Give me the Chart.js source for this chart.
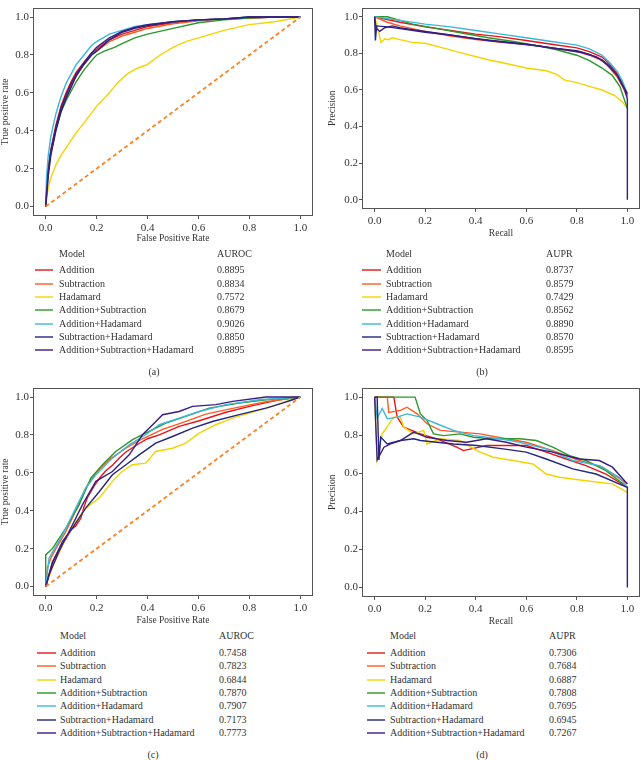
<!DOCTYPE html>
<html><head><meta charset="utf-8">
<script src="https://cdn.jsdelivr.net/npm/chart.js@4.4.1/dist/chart.umd.min.js"></script>
<style>
html,body{margin:0;padding:0;background:#fff;}
#root{position:relative;width:641px;height:760px;overflow:hidden;font-family:'Liberation Serif','Times New Roman',serif;color:#333;}
canvas{position:absolute;}
.t{position:absolute;white-space:nowrap;font-size:10px;line-height:12px;transform:translateY(-50%);}
.sw{position:absolute;height:2px;}
</style></head><body><div id="root">
<canvas id="ca" width="320" height="250" style="left:0;top:0;width:320px;height:250px"></canvas>
<canvas id="cb" width="321" height="250" style="left:320px;top:0;width:321px;height:250px"></canvas>
<canvas id="cc" width="320" height="250" style="left:0;top:380px;width:320px;height:250px"></canvas>
<canvas id="cd" width="321" height="250" style="left:320px;top:380px;width:321px;height:250px"></canvas>
</div>
<script>
// ---------- labels ----------
const MODELS = ['Addition','Subtraction','Hadamard','Addition+Subtraction','Addition+Hadamard','Subtraction+Hadamard','Addition+Subtraction+Hadamard'];
const COLORS = ['#e8141a','#ff5a22','#f2d400','#2b982b','#3db6dc','#23257f','#3b1d82'];
const TICKS = [0.0,0.2,0.4,0.6,0.8,1.0];
const AUROC_A = ['0.8895','0.8834','0.7572','0.8679','0.9026','0.8850','0.8895'];
const AUPR_B  = ['0.8737','0.8579','0.7429','0.8562','0.8890','0.8570','0.8595'];
const AUROC_C = ['0.7458','0.7823','0.6844','0.7870','0.7907','0.7173','0.7773'];
const AUPR_D  = ['0.7306','0.7684','0.6887','0.7808','0.7695','0.6945','0.7267'];
const DIAG = [[0,0],[1,1]];

// ---------- (a) ROC ----------
const A_ADD = [[0,0],[0.005,0.12],[0.01,0.2],[0.02,0.3],[0.04,0.43],[0.06,0.53],[0.08,0.6],[0.1,0.66],[0.12,0.71],[0.15,0.76],[0.18,0.81],[0.2,0.83],[0.25,0.88],[0.3,0.91],[0.35,0.93],[0.4,0.95],[0.5,0.97],[0.6,0.985],[0.7,0.99],[0.8,0.995],[0.9,1],[1,1]];
const A_SUB = [[0,0],[0.005,0.1],[0.01,0.18],[0.02,0.28],[0.04,0.41],[0.06,0.51],[0.08,0.58],[0.1,0.64],[0.12,0.69],[0.15,0.75],[0.18,0.8],[0.2,0.82],[0.25,0.87],[0.3,0.9],[0.35,0.92],[0.4,0.94],[0.5,0.965],[0.6,0.98],[0.7,0.99],[0.8,0.995],[0.9,1],[1,1]];
const A_HAD = [[0,0],[0.005,0.06],[0.01,0.1],[0.02,0.15],[0.04,0.22],[0.06,0.27],[0.08,0.31],[0.1,0.35],[0.12,0.39],[0.15,0.44],[0.2,0.53],[0.25,0.6],[0.28,0.65],[0.32,0.7],[0.36,0.73],[0.4,0.75],[0.45,0.8],[0.5,0.84],[0.55,0.87],[0.6,0.89],[0.65,0.91],[0.7,0.93],[0.8,0.96],[0.9,0.975],[1,1]];
const A_ADDSUB = [[0,0],[0.005,0.12],[0.01,0.2],[0.02,0.29],[0.04,0.41],[0.06,0.5],[0.08,0.56],[0.1,0.61],[0.12,0.66],[0.15,0.72],[0.18,0.77],[0.2,0.8],[0.23,0.82],[0.27,0.84],[0.3,0.86],[0.35,0.89],[0.4,0.91],[0.5,0.94],[0.6,0.97],[0.7,0.985],[0.8,0.995],[0.9,1],[1,1]];
const A_ADDHAD = [[0,0],[0.003,0.15],[0.01,0.27],[0.02,0.37],[0.04,0.49],[0.06,0.58],[0.08,0.65],[0.1,0.7],[0.12,0.75],[0.15,0.8],[0.18,0.85],[0.2,0.87],[0.25,0.91],[0.3,0.93],[0.35,0.95],[0.4,0.96],[0.5,0.975],[0.6,0.985],[0.7,0.99],[0.8,1],[1,1]];
const A_SUBHAD = [[0,0],[0.005,0.08],[0.01,0.16],[0.02,0.27],[0.04,0.4],[0.06,0.5],[0.08,0.57],[0.1,0.63],[0.12,0.69],[0.15,0.75],[0.18,0.8],[0.2,0.82],[0.25,0.88],[0.3,0.92],[0.35,0.94],[0.4,0.955],[0.5,0.975],[0.6,0.985],[0.7,0.99],[0.8,1],[1,1]];
const A_ALL = [[0,0],[0.005,0.1],[0.01,0.19],[0.02,0.29],[0.04,0.42],[0.06,0.52],[0.08,0.59],[0.1,0.65],[0.12,0.7],[0.15,0.76],[0.18,0.81],[0.2,0.84],[0.25,0.89],[0.3,0.925],[0.35,0.945],[0.4,0.96],[0.5,0.975],[0.6,0.985],[0.7,0.99],[0.8,1],[1,1]];

// ---------- (b) PR ----------
const B_ADD = [[0,1],[0.05,0.985],[0.1,0.97],[0.2,0.945],[0.3,0.925],[0.4,0.905],[0.5,0.89],[0.6,0.87],[0.7,0.85],[0.8,0.83],[0.85,0.81],[0.9,0.78],[0.93,0.74],[0.96,0.69],[0.98,0.64],[1,0.57]];
const B_SUB = [[0,1],[0.05,0.97],[0.1,0.95],[0.2,0.92],[0.3,0.895],[0.4,0.875],[0.5,0.86],[0.6,0.85],[0.7,0.83],[0.8,0.81],[0.85,0.79],[0.9,0.76],[0.93,0.72],[0.96,0.67],[0.98,0.62],[1,0.56]];
const B_HAD = [[0,1],[0.01,0.95],[0.025,0.86],[0.04,0.88],[0.055,0.875],[0.07,0.885],[0.1,0.875],[0.15,0.86],[0.2,0.855],[0.27,0.83],[0.35,0.8],[0.45,0.765],[0.52,0.745],[0.6,0.72],[0.68,0.705],[0.72,0.685],[0.75,0.655],[0.8,0.64],[0.85,0.62],[0.9,0.6],[0.95,0.57],[0.98,0.535],[1,0.5]];
const B_ADDSUB = [[0,1],[0.05,1.0],[0.1,0.98],[0.15,0.96],[0.25,0.935],[0.35,0.91],[0.45,0.885],[0.55,0.865],[0.65,0.84],[0.72,0.82],[0.8,0.79],[0.85,0.76],[0.9,0.72],[0.94,0.68],[0.97,0.62],[1,0.5]];
const B_ADDHAD = [[0,1],[0.05,0.99],[0.1,0.98],[0.2,0.96],[0.3,0.945],[0.4,0.925],[0.5,0.905],[0.6,0.885],[0.7,0.865],[0.8,0.845],[0.85,0.825],[0.9,0.79],[0.93,0.75],[0.96,0.7],[0.98,0.65],[1,0.58]];
const B_SUBHAD = [[0,1],[0.003,0.87],[0.008,0.95],[0.05,0.945],[0.1,0.935],[0.2,0.915],[0.3,0.9],[0.4,0.88],[0.5,0.865],[0.6,0.85],[0.7,0.83],[0.8,0.815],[0.85,0.795],[0.9,0.765],[0.93,0.73],[0.96,0.68],[0.98,0.63],[1,0.58]];
const B_ALL = [[0,1],[0.005,0.94],[0.02,0.92],[0.04,0.94],[0.07,0.95],[0.1,0.94],[0.15,0.93],[0.25,0.91],[0.35,0.89],[0.45,0.87],[0.55,0.855],[0.65,0.84],[0.75,0.82],[0.82,0.805],[0.88,0.78],[0.92,0.74],[0.96,0.68],[0.99,0.6],[1,0.55],[1,0]];

// ---------- (c) ROC ----------
const C_ADD = [[0,0],[0.026,0.13],[0.05,0.19],[0.079,0.25],[0.1,0.3],[0.118,0.32],[0.138,0.36],[0.15,0.42],[0.164,0.47],[0.19,0.53],[0.21,0.57],[0.235,0.61],[0.262,0.64],[0.29,0.68],[0.315,0.71],[0.367,0.755],[0.4,0.78],[0.446,0.8],[0.524,0.845],[0.603,0.875],[0.708,0.92],[0.813,0.955],[0.917,0.985],[1,1]];
const C_SUB = [[0,0],[0.007,0.1],[0.02,0.15],[0.04,0.2],[0.079,0.29],[0.118,0.4],[0.157,0.52],[0.197,0.6],[0.249,0.67],[0.315,0.73],[0.38,0.78],[0.459,0.83],[0.537,0.865],[0.629,0.91],[0.734,0.94],[0.865,0.975],[1,1]];
const C_HAD = [[0,0],[0.026,0.1],[0.079,0.255],[0.118,0.343],[0.157,0.414],[0.21,0.467],[0.262,0.555],[0.3,0.607],[0.34,0.643],[0.393,0.651],[0.432,0.713],[0.498,0.73],[0.55,0.757],[0.603,0.81],[0.668,0.854],[0.734,0.889],[0.8,0.915],[0.89,0.951],[0.944,0.977],[1,1]];
const C_ADDSUB = [[0,0],[0,0.167],[0.026,0.2],[0.079,0.308],[0.131,0.431],[0.177,0.572],[0.223,0.643],[0.275,0.713],[0.341,0.775],[0.406,0.819],[0.472,0.863],[0.55,0.898],[0.642,0.942],[0.76,0.968],[0.865,0.986],[1,1]];
const C_ADDHAD = [[0,0],[0.013,0.15],[0.066,0.273],[0.118,0.414],[0.157,0.52],[0.197,0.59],[0.262,0.678],[0.328,0.748],[0.393,0.801],[0.446,0.854],[0.524,0.889],[0.603,0.924],[0.708,0.96],[0.839,0.986],[1,1]];
const C_SUBHAD = [[0,0],[0.026,0.123],[0.066,0.238],[0.105,0.308],[0.157,0.414],[0.21,0.5],[0.262,0.59],[0.315,0.643],[0.367,0.695],[0.432,0.757],[0.498,0.792],[0.577,0.836],[0.655,0.871],[0.76,0.907],[0.865,0.942],[0.93,0.968],[0.97,0.986],[1,1]];
const C_ALL = [[0,0],[0.013,0.062],[0.052,0.185],[0.105,0.326],[0.144,0.431],[0.197,0.555],[0.262,0.607],[0.328,0.695],[0.38,0.801],[0.42,0.854],[0.459,0.907],[0.524,0.924],[0.577,0.951],[0.668,0.96],[0.734,0.977],[0.865,1],[1,1]];

// ---------- (d) PR ----------
const D_ADD = [[0,1],[0.076,1],[0.089,0.895],[0.115,0.842],[0.181,0.807],[0.246,0.781],[0.325,0.737],[0.351,0.719],[0.443,0.746],[0.521,0.746],[0.6,0.746],[0.679,0.711],[0.758,0.675],[0.836,0.64],[0.915,0.596],[1,0.526]];
const D_SUB = [[0,1],[0.05,1],[0.056,0.92],[0.102,0.93],[0.128,0.947],[0.168,0.912],[0.207,0.86],[0.26,0.825],[0.338,0.816],[0.417,0.807],[0.521,0.781],[0.6,0.763],[0.705,0.719],[0.81,0.667],[0.902,0.632],[1,0.544]];
const D_HAD = [[0,1],[0.01,0.67],[0.03,0.807],[0.076,0.895],[0.102,0.895],[0.115,0.842],[0.155,0.807],[0.194,0.825],[0.207,0.754],[0.26,0.781],[0.338,0.772],[0.404,0.719],[0.469,0.684],[0.548,0.667],[0.626,0.649],[0.679,0.596],[0.731,0.579],[0.836,0.561],[0.941,0.544],[1,0.5]];
const D_ADDSUB = [[0,1],[0.16,1],[0.181,0.912],[0.207,0.877],[0.233,0.807],[0.273,0.798],[0.338,0.807],[0.391,0.789],[0.469,0.781],[0.574,0.781],[0.64,0.772],[0.705,0.737],[0.771,0.693],[0.836,0.667],[0.915,0.614],[0.967,0.561],[1,0.526]];
const D_ADDHAD = [[0,1],[0.01,0.89],[0.03,0.94],[0.05,0.886],[0.089,0.895],[0.128,0.912],[0.181,0.895],[0.246,0.86],[0.312,0.825],[0.391,0.798],[0.495,0.781],[0.574,0.763],[0.679,0.728],[0.784,0.667],[0.889,0.64],[0.967,0.579],[1,0.526]];
const D_SUBHAD = [[0,1],[0.01,1],[0.017,0.67],[0.024,0.79],[0.05,0.754],[0.102,0.772],[0.155,0.781],[0.181,0.772],[0.312,0.754],[0.404,0.746],[0.508,0.728],[0.6,0.711],[0.679,0.675],[0.784,0.623],[0.876,0.596],[0.967,0.544],[1,0.526],[1,0]];
const D_ALL = [[0,1],[0.01,0.67],[0.037,0.737],[0.063,0.754],[0.102,0.772],[0.155,0.816],[0.207,0.789],[0.286,0.772],[0.364,0.763],[0.443,0.781],[0.521,0.763],[0.6,0.737],[0.705,0.711],[0.81,0.675],[0.889,0.667],[0.941,0.632],[1,0.544]];

const FONT = "'Liberation Serif','Times New Roman',serif";

const boxPlugin = {
  id:'box',
  afterDatasetsDraw(chart){
    const a = chart.chartArea, ctx = chart.ctx;
    ctx.save(); ctx.strokeStyle='#555'; ctx.lineWidth=1;
    ctx.strokeRect(Math.round(a.left)+0.5, Math.round(a.top)+0.5, Math.round(a.right-a.left)-1, Math.round(a.bottom-a.top)-1);
    ctx.restore();
  }
};

function makeChart(id, series, cfg){
  const datasets = series.map((s,i)=>({
    label: MODELS[i], data: s.map(p=>({x:p[0],y:p[1]})), borderColor: COLORS[i],
    borderWidth:1.4, pointRadius:0, fill:false, tension:0, order: 10-i
  }));
  if(cfg.diag) datasets.push({label:'chance', data: DIAG.map(p=>({x:p[0],y:p[1]})), borderColor:'#ff8020', borderDash:[4,3], borderWidth:1.8, pointRadius:0, fill:false, order:0});
  const tickFont = {family:FONT, size:11};
  const titleFont = {family:FONT, size:9.5};
  const common = {type:'linear', min:-0.05, max:1.05,
    afterBuildTicks: s=>{ s.ticks = TICKS.map(v=>({value:v})); },
    grid:{drawOnChartArea:false, drawTicks:true, tickLength:3, color:'#555'},
    border:{display:false}};
  new Chart(document.getElementById(id), {
    type:'line', data:{datasets},
    options:{responsive:false, animation:false, maintainAspectRatio:false,
      layout:{padding:cfg.pad},
      plugins:{legend:{display:false}, tooltip:{enabled:false}},
      scales:{
        x:Object.assign({}, common, {
          afterFit: s=>{ s.height = cfg.xH; },
          ticks:{callback:v=>Number(v).toFixed(1), font:tickFont, color:'#333', padding:cfg.xTP, maxRotation:0, autoSkip:false},
          title:{display:true, text:cfg.xTitle, font:titleFont, color:'#333', padding:{top:0,bottom:cfg.xTitlePad}}
        }),
        y:Object.assign({}, common, {
          afterFit: s=>{ s.width = cfg.yW; },
          ticks:{callback:v=>Number(v).toFixed(1), font:tickFont, color:'#333', padding:1, autoSkip:false},
          title:{display:true, text:cfg.yTitle, font:titleFont, color:'#333', padding:{top:cfg.yTitlePad,bottom:0}}
        })
      }
    },
    plugins:[boxPlugin]
  });
}

makeChart('ca',[A_ADD,A_SUB,A_HAD,A_ADDSUB,A_ADDHAD,A_SUBHAD,A_ALL],
  {diag:true, pad:{top:5,right:7,left:0,bottom:0}, xH:34, yW:33, xTP:3, xTitlePad:6, yTitlePad:0, xTitle:'False Positive Rate', yTitle:'True positive rate'});
makeChart('cb',[B_ADD,B_SUB,B_HAD,B_ADDSUB,B_ADDHAD,B_SUBHAD,B_ALL],
  {diag:false, pad:{top:1,right:1,left:0,bottom:0}, xH:41, yW:42, xTP:3, xTitlePad:11, yTitlePad:7, xTitle:'Recall', yTitle:'Precision'});
makeChart('cc',[C_ADD,C_SUB,C_HAD,C_ADDSUB,C_ADDHAD,C_SUBHAD,C_ALL],
  {diag:true, pad:{top:6,right:7,left:0,bottom:0}, xH:34, yW:33, xTP:3, xTitlePad:4, yTitlePad:0, xTitle:'False Positive Rate', yTitle:'True positive rate'});
makeChart('cd',[D_ADD,D_SUB,D_HAD,D_ADDSUB,D_ADDHAD,D_SUBHAD,D_ALL],
  {diag:false, pad:{top:7,right:1,left:0,bottom:0}, xH:33, yW:42, xTP:3, xTitlePad:3, yTitlePad:7, xTitle:'Recall', yTitle:'Precision'});

// ---------- legends (HTML text) ----------
const root = document.getElementById('root');
function txt(s, x, y, center){
  const d = document.createElement('div'); d.className='t'; d.textContent=s;
  d.style.left = x+'px'; d.style.top = y+'px';
  if(center){ d.style.transform='translate(-50%,-50%)'; }
  root.appendChild(d);
}
function legend(L){
  txt('Model', L.tx, L.y0);
  txt(L.head, L.vx, L.y0);
  L.rows.forEach((y,i)=>{
    const sw = document.createElement('div'); sw.className='sw';
    sw.style.left=L.sx0+'px'; sw.style.width=(L.sx1-L.sx0)+'px'; sw.style.top=Math.round(y-1)+'px';
    sw.style.background=COLORS[i]; sw.style.opacity='0.7';
    root.appendChild(sw);
    txt(MODELS[i], L.tx, y);
    txt(L.vals[i], L.vx, y);
  });
  txt(L.cap, L.cx, L.cy, true);
}
const ROWS_TOP = [270,283.7,297,310.3,323.7,336.7,350.3];
const ROWS_BOT = [652.7,666,679.7,693,706.3,719.7,733];
legend({tx:59, vx:217, y0:254.3, head:'AUROC', rows:ROWS_TOP, vals:AUROC_A, sx0:35, sx1:53, cap:'(a)', cx:154, cy:371.7});
legend({tx:386, vx:546, y0:254.3, head:'AUPR', rows:ROWS_TOP, vals:AUPR_B, sx0:362, sx1:381, cap:'(b)', cx:482, cy:371.7});
legend({tx:60, vx:219, y0:636, head:'AUROC', rows:ROWS_BOT, vals:AUROC_C, sx0:37, sx1:56, cap:'(c)', cx:153, cy:755});
legend({tx:390, vx:549, y0:636, head:'AUPR', rows:ROWS_BOT, vals:AUPR_D, sx0:367, sx1:385, cap:'(d)', cx:482, cy:755});
</script>
</body></html>
